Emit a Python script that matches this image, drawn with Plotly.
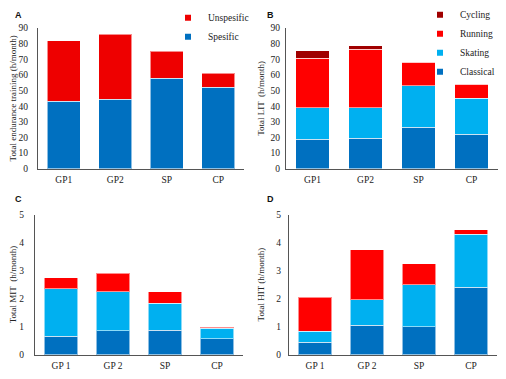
import plotly.graph_objects as go

cats_ab = ["GP1", "GP2", "SP", "CP"]
cats_cd = ["GP 1", "GP 2", "SP", "CP"]

# Panel A (h/month)
a_spesific = [43, 44.5, 58, 52]
a_unspesific = [39, 41.5, 17, 9]

# Panel B LIT (h/month)
b_classical = [19, 19.5, 26.5, 22]
b_skating = [20, 19.5, 26.5, 23]
b_running = [31.5, 37.5, 15, 9]
b_cycling = [5, 2, 0, 0]

# Panel C MIT (h/month)
c_classical = [0.65, 0.85, 0.87, 0.57]
c_skating = [1.7, 1.4, 0.96, 0.38]
c_running = [0.4, 0.65, 0.42, 0.02]

# Panel D HIT (h/month)
d_classical = [0.45, 1.05, 1.0, 2.4]
d_skating = [0.38, 0.9, 1.5, 1.9]
d_running = [1.22, 1.8, 0.75, 0.15]

BLUE = "#0070C0"
LBLUE = "#00B0F0"
RED = "#FF0000"
RED_A = "#EE0000"
DRED = "#A00000"
SERIF = "Liberation Serif, Times New Roman, serif"
SANS = "Liberation Sans, Arial, sans-serif"

W, H = 506, 379

def fx(px):
    return px / W

def fy(py):
    return 1 - py / H

fig = go.Figure()

edge = dict(color="rgba(255,255,255,0.55)", width=1)

def add_bar(x, y, color, xa, ya, name):
    fig.add_trace(go.Bar(x=x, y=y, marker=dict(color=color, line=edge),
                         xaxis=xa, yaxis=ya, name=name, showlegend=False))

def add_leg(name, color, legend, xa, ya):
    fig.add_trace(go.Scatter(x=[None], y=[None], mode="markers", name=name,
                             marker=dict(symbol="square", size=6, color=color),
                             xaxis=xa, yaxis=ya, legend=legend, showlegend=True))

# A
add_bar(cats_ab, a_spesific, BLUE, "x", "y", "Spesific")
add_bar(cats_ab, a_unspesific, RED_A, "x", "y", "Unspesific")
add_leg("Spesific", BLUE, "legend", "x", "y")
add_leg("Unspesific", RED_A, "legend", "x", "y")

# B
add_bar(cats_ab, b_classical, BLUE, "x2", "y2", "Classical")
add_bar(cats_ab, b_skating, LBLUE, "x2", "y2", "Skating")
add_bar(cats_ab, b_running, RED, "x2", "y2", "Running")
add_bar(cats_ab, b_cycling, DRED, "x2", "y2", "Cycling")
add_leg("Classical", BLUE, "legend2", "x2", "y2")
add_leg("Skating", LBLUE, "legend2", "x2", "y2")
add_leg("Running", RED, "legend2", "x2", "y2")
add_leg("Cycling", DRED, "legend2", "x2", "y2")

# C
add_bar(cats_cd, c_classical, BLUE, "x3", "y3", "Classical")
add_bar(cats_cd, c_skating, LBLUE, "x3", "y3", "Skating")
add_bar(cats_cd, c_running, RED, "x3", "y3", "Running")

# D
add_bar(cats_cd, d_classical, BLUE, "x4", "y4", "Classical")
add_bar(cats_cd, d_skating, LBLUE, "x4", "y4", "Skating")
add_bar(cats_cd, d_running, RED, "x4", "y4", "Running")

tickfont = dict(family=SERIF, size=9.5, color="#222")
titlefont = dict(family=SERIF, size=9, color="#222")

def xax(domain, anchor):
    return dict(domain=domain, anchor=anchor, type="category", range=[-0.5, 3.5],
                showline=True, linecolor="#555", linewidth=1, showgrid=False,
                ticks="", tickfont=tickfont, ticklabelstandoff=2, fixedrange=True)

def yax(domain, anchor, rng, dtick, title, tstand, titstand):
    return dict(domain=domain, anchor=anchor, range=rng, dtick=dtick,
                showline=True, linecolor="#555", linewidth=1, showgrid=False,
                zeroline=False, ticks="", tickfont=tickfont, ticklabelstandoff=tstand,
                title=dict(text=title, font=titlefont, standoff=titstand), fixedrange=True)

yAB = [fy(167), fy(21.7)]
yCD = [fy(359), fy(214.3)]

fig.update_layout(
    width=W, height=H,
    margin=dict(l=0, r=0, t=0, b=0),
    paper_bgcolor="white", plot_bgcolor="white",
    barmode="stack", bargap=0.36,
    xaxis=xax([fx(38), fx(244)], "y"),
    yaxis=yax(yAB, "x", [0, 90], 10, "Total endurance training (h/month)", 7, 0),
    xaxis2=xax([fx(286), fx(498)], "y2"),
    yaxis2=yax(yAB, "x2", [0, 90], 10, "Total LIT  (h/month)", 3, 4),
    xaxis3=xax([fx(35), fx(243)], "y3"),
    yaxis3=yax(yCD, "x3", [0, 5], 1, "Total MIT  (h/month)", 8, 1),
    xaxis4=xax([fx(289), fx(497)], "y4"),
    yaxis4=yax(yCD, "x4", [0, 5], 1, "Total HIT (h/month)", 5, 10),
    legend=dict(x=fx(168), y=fy(-4), xanchor="left", yanchor="top",
                traceorder="reversed", font=dict(family=SERIF, size=9.5, color="#222"),
                bgcolor="rgba(0,0,0,0)", tracegroupgap=0, itemwidth=30),
    legend2=dict(x=fx(420), y=fy(-7), xanchor="left", yanchor="top",
                 traceorder="reversed", font=dict(family=SERIF, size=9.5, color="#222"),
                 bgcolor="rgba(0,0,0,0)", tracegroupgap=0, itemwidth=30),
    showlegend=True,
)

for lab, px, py in [("A", 13, 8), ("B", 265, 8), ("C", 13, 198), ("D", 265, 198)]:
    fig.add_annotation(text="<b>%s</b>" % lab, x=fx(px), y=fy(py), xref="paper", yref="paper",
                       xanchor="left", yanchor="middle", showarrow=False,
                       font=dict(family=SANS, size=9, color="#111"))

fig.write_html("out.html", config={"displayModeBar": False},
               post_script="document.body.style.margin='0';document.body.style.overflow='hidden';")
